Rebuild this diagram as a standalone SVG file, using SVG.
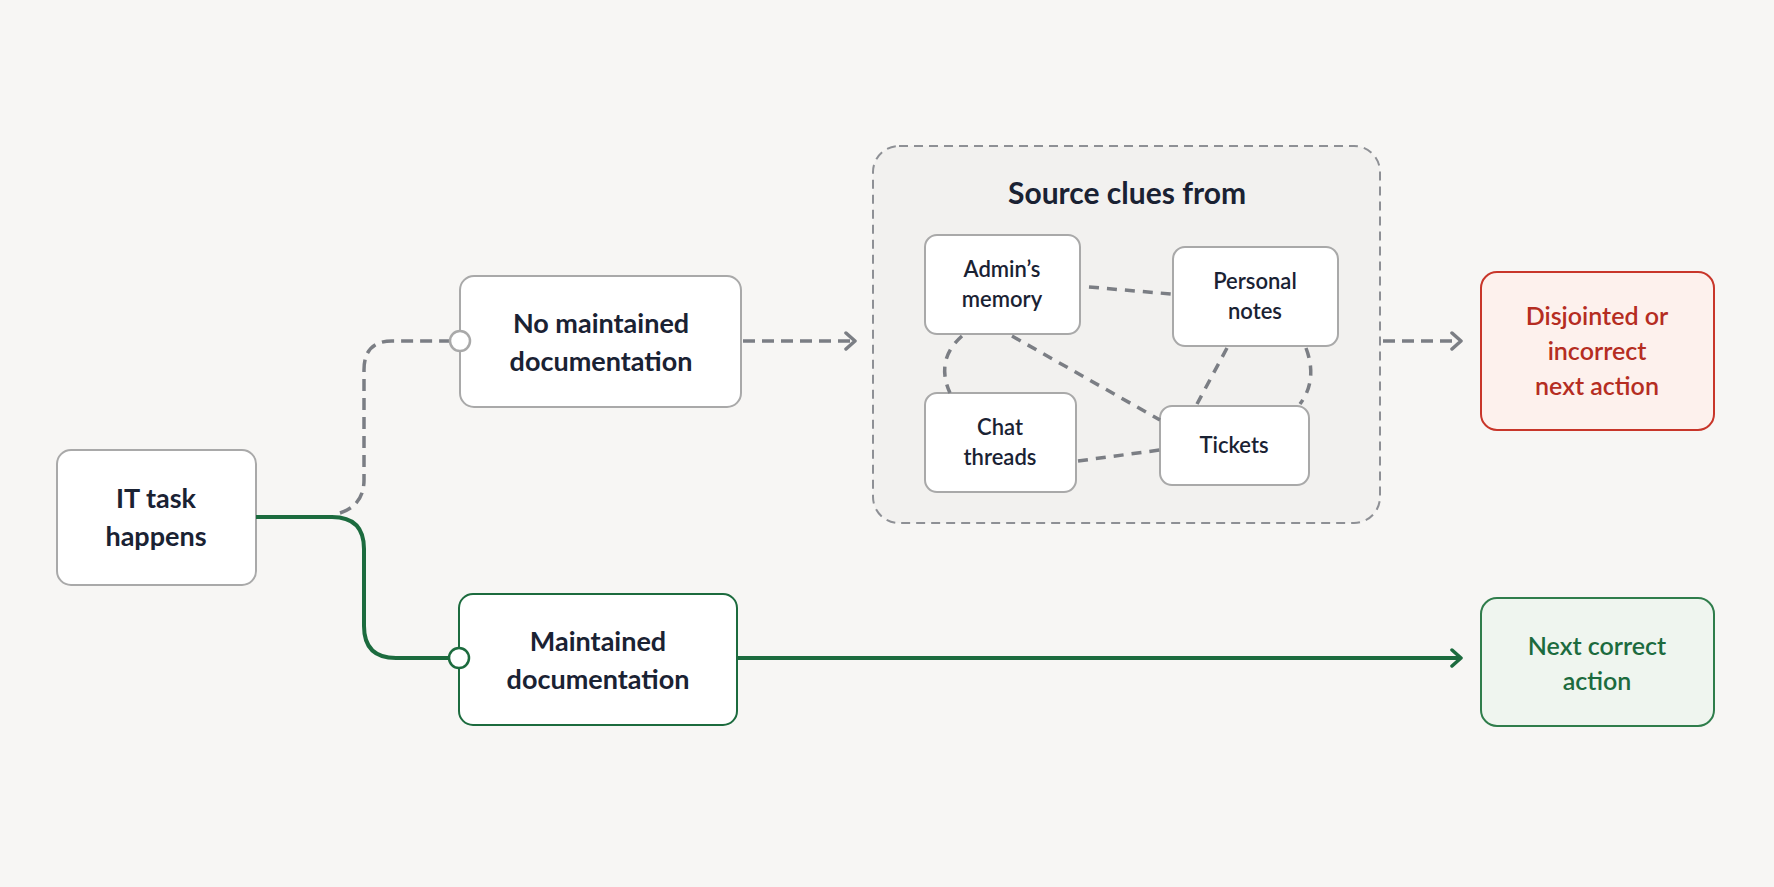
<svg xmlns="http://www.w3.org/2000/svg" width="1774" height="887" viewBox="0 0 1774 887">
<defs>
<style>
text{font-family:"Lato","Noto Sans",sans-serif;text-anchor:middle;font-weight:700}
.n{fill:#fff;stroke:#a9a9a9;stroke-width:2}
.t{fill:#1a2233;font-size:27px}
.s{fill:#1a2233;font-size:22px;font-weight:600}
.d{fill:none;stroke:#7b7e84;stroke-width:3.5;stroke-dasharray:12 7}
.g{fill:none;stroke:#1c6b3e;stroke-width:4}
</style>
<marker id="ag" viewBox="0 0 20 20" refX="17" refY="10" markerWidth="20" markerHeight="20" markerUnits="userSpaceOnUse" orient="auto"><path d="M8 2 L17 10 L8 18" fill="none" stroke="#1c6b3e" stroke-width="3.5" stroke-linecap="round" stroke-linejoin="round"/></marker>
<marker id="ad" viewBox="0 0 20 20" refX="17" refY="10" markerWidth="20" markerHeight="20" markerUnits="userSpaceOnUse" orient="auto"><path d="M8 2 L17 10 L8 18" fill="none" stroke="#7b7e84" stroke-width="3.5" stroke-linecap="round" stroke-linejoin="round"/></marker>
</defs>
<rect width="1774" height="887" fill="#f7f6f4"/>
<g id="container">
<rect x="873" y="146" width="507" height="377" rx="26" fill="#f2f1ef" stroke="#8e9095" stroke-width="2" stroke-dasharray="9 6"/>
<text x="1127" y="204" style="font-size:30px;fill:#1a2233">Source clues from</text>
</g>
<g id="it"><rect class="n" x="57" y="450" width="199" height="135" rx="14"/><text class="t" x="156" y="508">IT task</text><text class="t" x="156" y="546">happens</text></g>
<g id="nomaint"><rect class="n" x="460" y="276" width="281" height="131" rx="14"/><text class="t" x="601" y="333">No maintained</text><text class="t" x="601" y="371">documentation</text></g>
<g id="maint"><rect x="459" y="594" width="278" height="131" rx="14" fill="#fff" stroke="#1c6b3e" stroke-width="2"/><text class="t" x="598" y="651">Maintained</text><text class="t" x="598" y="689">documentation</text></g>
<g id="admin"><rect class="n" x="925" y="235" width="155" height="99" rx="12"/><text class="s" x="1002" y="277">Admin’s</text><text class="s" x="1002" y="307">memory</text></g>
<g id="personal"><rect class="n" x="1173" y="247" width="165" height="99" rx="12"/><text class="s" x="1255" y="289">Personal</text><text class="s" x="1255" y="319">notes</text></g>
<g id="chat"><rect class="n" x="925" y="393" width="151" height="99" rx="12"/><text class="s" x="1000" y="435">Chat</text><text class="s" x="1000" y="465">threads</text></g>
<g id="tickets"><rect class="n" x="1160" y="406" width="149" height="79" rx="12"/><text class="s" x="1234" y="453">Tickets</text></g>
<g id="disjointed"><rect x="1481" y="272" width="233" height="158" rx="16" fill="#fdf1ed" stroke="#c8362a" stroke-width="2"/><text x="1597" y="325" style="font-size:25px;fill:#b52d22;font-weight:600">Disjointed or</text><text x="1597" y="360" style="font-size:25px;fill:#b52d22;font-weight:600">incorrect</text><text x="1597" y="395" style="font-size:25px;fill:#b52d22;font-weight:600">next action</text></g>
<g id="nextcorrect"><rect x="1481" y="598" width="233" height="128" rx="16" fill="#eff5ef" stroke="#2f7d4b" stroke-width="2"/><text x="1597" y="655" style="font-size:25px;fill:#1c6b3e;font-weight:600">Next correct</text><text x="1597" y="690" style="font-size:25px;fill:#1c6b3e;font-weight:600">action</text></g>
<g id="connectors">
<path class="g" d="M256 517 H332 Q364 517 364 549 V626 Q364 658 396 658 H452"/>
<path class="d" d="M340 513 Q364 505 364 480 V370 Q364 341 392 341 H452"/>
<path class="d" d="M743 341 H855" marker-end="url(#ad)"/>
<path class="d" d="M1383 341 H1461" marker-end="url(#ad)"/>
<path class="g" d="M737 658 H1461" marker-end="url(#ag)"/>
<g style="fill:none;stroke:#7b7e84;stroke-width:3.5;stroke-dasharray:10 8">
<path d="M1089 287 L1171 294"/>
<path d="M1012 336 L1160 420"/>
<path d="M962 336 Q935 360 950 393"/>
<path d="M1078 461 L1160 450"/>
<path d="M1227 348 L1197 404"/>
<path d="M1306 348 Q1318 380 1300 404"/>
</g>
<circle cx="460" cy="341" r="10" fill="#fff" stroke="#a9a9a9" stroke-width="2.5"/>
<circle cx="459" cy="658" r="10" fill="#fff" stroke="#1c6b3e" stroke-width="2.5"/>
</g>
</svg>
